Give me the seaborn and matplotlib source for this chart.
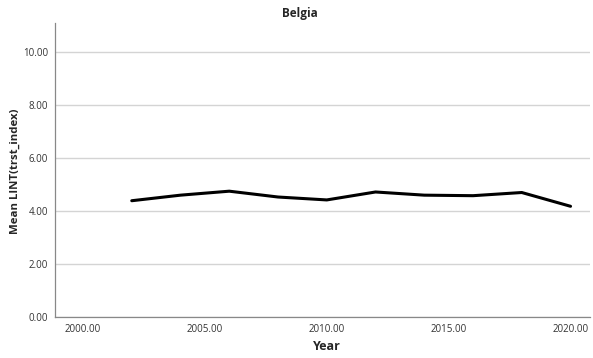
import pandas as pd
import matplotlib
matplotlib.use("Agg")
import matplotlib.pyplot as plt
import seaborn as sns

# Mean trust index per ESS round, Belgium
years = [2002, 2004, 2006, 2008, 2010, 2012, 2014, 2016, 2018, 2020]
trust = [4.39, 4.60, 4.75, 4.53, 4.42, 4.72, 4.60, 4.58, 4.70, 4.18]
y_ticks = [0, 2, 4, 6, 8, 10]
x_ticks = [2000, 2005, 2010, 2015, 2020]

df = pd.DataFrame({"Year": years, "trust": trust})

sns.set_style("white")
plt.rcParams['font.family'] = ['Open Sans', 'DejaVu Sans']

fig = plt.figure(figsize=(5.93, 3.58), dpi=100)
ax = fig.add_axes([0.0927, 0.1145, 0.9023, 0.8213])

sns.lineplot(data=df, x="Year", y="trust", color="black", linewidth=2.2, ax=ax)

ax.set_xlim(1998.85, 2020.8)
ax.set_ylim(0, 11.1)
ax.set_yticks(y_ticks)
ax.set_yticklabels(["{:.2f}".format(v) for v in y_ticks], fontsize=7, color="#333333")
ax.set_xticks(x_ticks)
ax.set_xticklabels(["{:.2f}".format(v) for v in x_ticks], fontsize=7, color="#333333")
ax.tick_params(length=0, pad=5)
ax.yaxis.grid(True, color="#d4d4d4", linewidth=1)
ax.set_axisbelow(True)

for side in ["top", "right"]:
    ax.spines[side].set_visible(False)
for side in ["left", "bottom"]:
    ax.spines[side].set_color("#888888")
    ax.spines[side].set_linewidth(0.9)

ax.set_xlabel("Year", fontsize=9, fontweight="bold")
ax.set_ylabel("Mean LINT(trst_index)", fontsize=8.2, fontweight="bold")
ax.xaxis.set_label_coords(0.508, -0.099)
ax.yaxis.set_label_coords(-0.074, 0.497)
ax.xaxis.label.set_va("center")
ax.yaxis.label.set_va("center")
fig.text(0.506, 0.961, "Belgia", ha="center", va="center", fontsize=8.5, fontweight="bold")

fig.savefig("out.png", dpi=100)
